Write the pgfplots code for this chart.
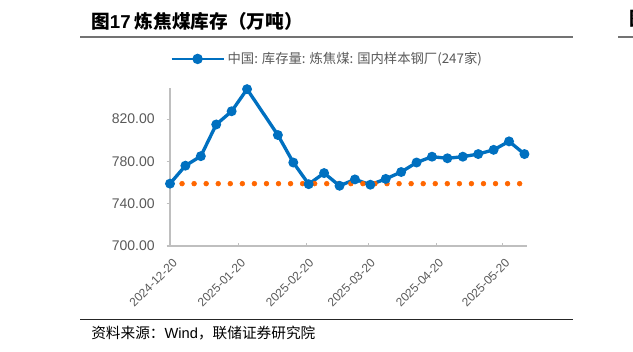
\documentclass[border=0pt]{standalone}
\usepackage{pgfplots}
\pgfplotsset{compat=1.18}
\usepackage{fontspec}
\setmainfont{Liberation Sans}
\newfontfamily\cjk{Noto Sans CJK SC}
\definecolor{myblue}{RGB}{0,112,192}
\definecolor{myorange}{RGB}{255,102,0}
\definecolor{axgray}{RGB}{191,191,191}
\definecolor{txtgray}{RGB}{89,89,89}
\begin{document}
\begin{tikzpicture}[x=0.75pt,y=0.75pt]
\useasboundingbox (0,0) rectangle (633,351);
% title
\node[anchor=west,inner sep=0pt] at (91,330) {\cjk\bfseries\fontsize{14pt}{16pt}\selectfont 图{\rmfamily\bfseries 17} 炼焦煤库存（万吨）};
\draw[line width=1.5pt, color=black!55] (80,314) -- (573,314);
\draw[line width=1.5pt, color=black!55] (618,314) -- (640,314);
\node[anchor=west,inner sep=0pt] at (629,332) {\cjk\bfseries\fontsize{14pt}{16pt}\selectfont 图};
% bottom
\draw[line width=0.8pt, color=black!85] (80,31.5) -- (573,31.5);
\node[anchor=west,inner sep=0pt] at (91,18) {\cjk\fontsize{11pt}{13pt}\selectfont 资料来源：{\rmfamily Wind}，联储证券研究院};
\begin{axis}[
  at={(127.5pt,78.75pt)}, anchor=south west,
  width=267.5pt, height=118.5pt, scale only axis,
  xmin=0, xmax=162, ymin=700, ymax=849.5,
  axis x line*=bottom, axis y line*=left,
  axis line style={color=axgray, line width=1pt},
  xtick={0,31,62,90,121,151},
  xticklabels={2024-12-20,2025-01-20,2025-02-20,2025-03-20,2025-04-20,2025-05-20},
  ytick={700,740,780,820},
  tick align=inside,
  major tick length=2.5pt,
  tick style={color=axgray, line width=0.8pt},
  y tick style={xshift=-2.5pt},
  yticklabel style={/pgf/number format/fixed, /pgf/number format/fixed zerofill, /pgf/number format/precision=2, font=\fontsize{10.5pt}{12pt}\selectfont, text=txtgray, xshift=-8pt},
  xticklabel style={rotate=45, anchor=north east, font=\fontsize{9pt}{10pt}\selectfont, text=txtgray, xshift=-2pt, yshift=-4pt},
  /pgf/number format/assume math mode=true,
  clip=false,
  legend style={at={(0,1.184)}, anchor=west, draw=none, fill=none, inner sep=0pt,
    font=\cjk\fontsize{10pt}{12pt}\selectfont, text=txtgray},
  legend image code/.code={
    \draw[myblue, line width=2pt] (0pt,0pt) -- (39pt,0pt);
    \fill[myblue] (19.5pt,0pt) circle (2.6pt);
  },
]
\addplot[myorange, only marks, mark=*, mark size=1.8pt, mark options={draw=none, fill=myorange}, forget plot] coordinates {
(0,759) (5.48,759) (10.95,759) (16.43,759) (21.9,759) (27.38,759) (32.86,759) (38.33,759) (43.81,759) (49.29,759)
(54.76,759) (60.24,759) (65.71,759) (71.19,759) (76.67,759) (82.14,759) (87.62,759) (93.1,759) (98.57,759) (104.05,759)
(109.52,759) (115,759) (120.48,759) (125.95,759) (131.43,759) (136.9,759) (142.38,759) (147.86,759) (153.33,759) (158.81,759)
};
\addplot[myblue, line width=2.5pt, mark=*, mark size=2.4pt, mark options={fill=myblue, draw=none, solid}] coordinates {
(0,759) (7,776) (14,785) (21,815) (28,827.5) (35,848.4) (49,805) (56,779) (63,758.5) (70,769) (77,757) (84,763)
(91,758) (98,763.5) (105,770) (112,779) (119,784.5) (126,783) (133,784.5) (140,787) (147,791) (154,799) (161,787)
};
\addlegendentry{中国: 库存量: 炼焦煤: 国内样本钢厂(247家)}
\end{axis}
\end{tikzpicture}
\end{document}
